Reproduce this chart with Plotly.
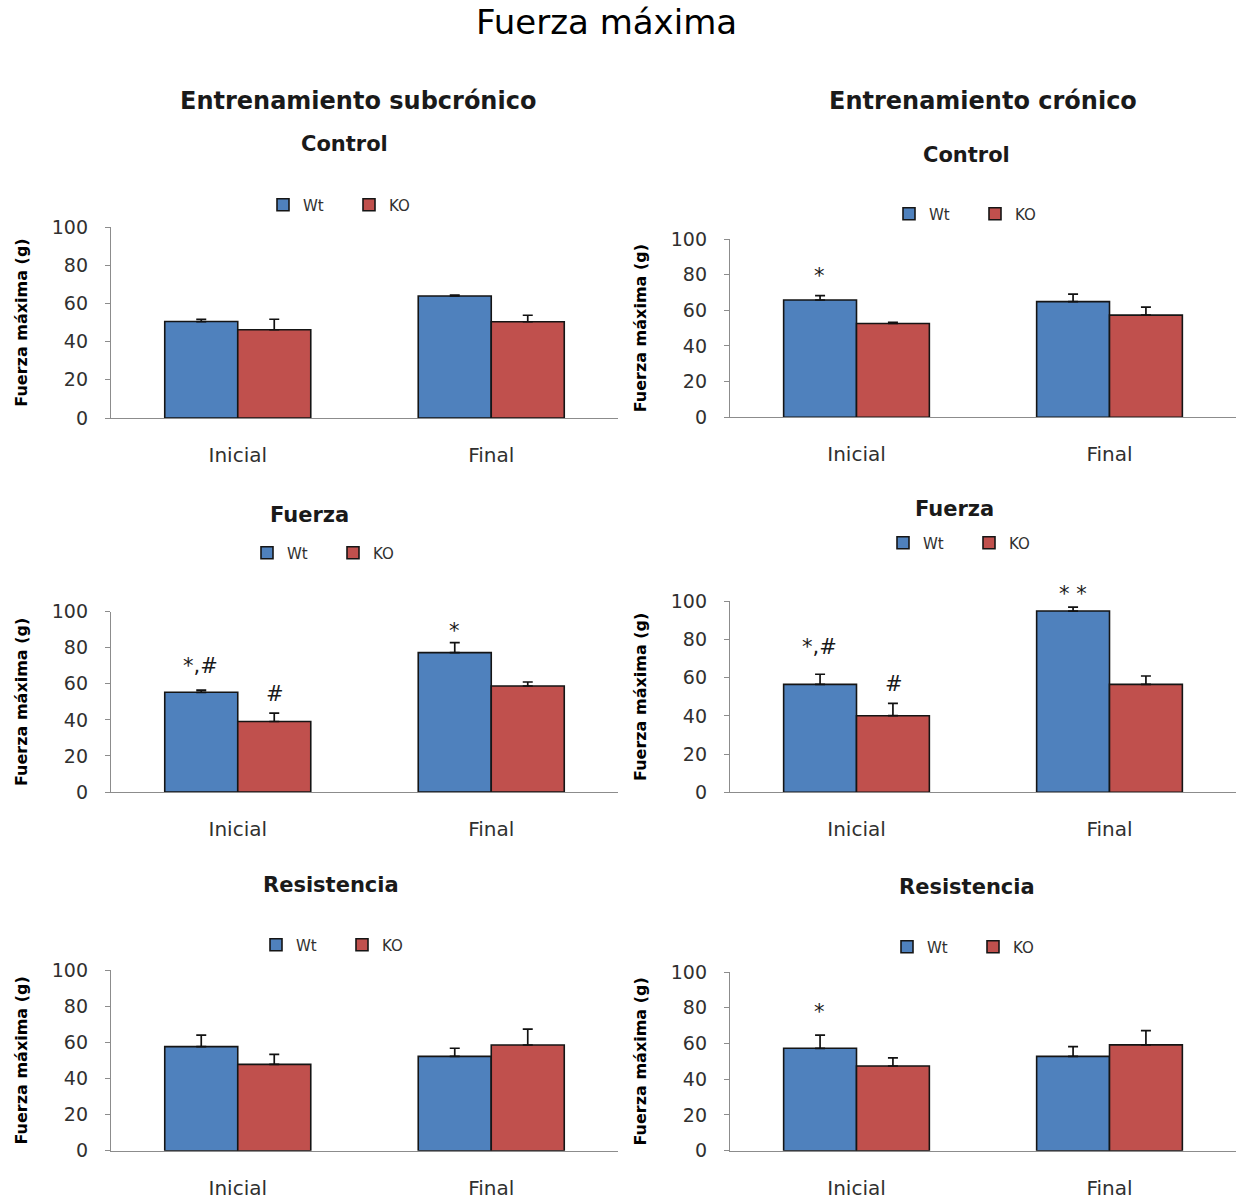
import plotly.graph_objects as go

# ---------------- data ----------------
categories = ["Inicial", "Final"]
series_names = ["Wt", "KO"]
column_titles = ["Entrenamiento subcrónico", "Entrenamiento crónico"]
panel_titles = ["Control", "Control", "Fuerza", "Fuerza", "Resistencia", "Resistencia"]

wt_values = [[50.5, 63.9], [65.8, 64.9], [55.3, 77.3], [56.5, 94.9], [57.6, 52.2], [57.3, 52.8]]
wt_errors = [[1.2, 0.5], [2.4, 4.2], [1.2, 5.5], [5.3, 2.0], [6.4, 4.5], [7.4, 5.4]]
ko_values = [[46.2, 50.4], [52.6, 57.3], [39.1, 58.8], [40.1, 56.5], [47.8, 58.5], [47.4, 59.2]]
ko_errors = [[5.5, 3.4], [0.6, 4.5], [4.6, 2.2], [6.5, 4.4], [5.5, 8.8], [4.5, 8.0]]

# significance marks: (panel index, category, series, text, y value of the mark centre)
marks = [
    (1, "Inicial", "Wt", "*", 81.6),
    (2, "Inicial", "Wt", "*,#", 72.3),
    (2, "Inicial", "KO", "#", 56.6),
    (2, "Final", "Wt", "*", 91.6),
    (3, "Inicial", "Wt", "*,#", 78.0),
    (3, "Inicial", "KO", "#", 58.8),
    (3, "Final", "Wt", "* *", 106.0),
    (5, "Inicial", "Wt", "*", 79.7),
]

y_ticks = [0, 20, 40, 60, 80, 100]
y_title = "Fuerza máxima (g)"
main_title = "Fuerza máxima"

# ---------------- layout geometry (pixels) ----------------
W, H = 1236, 1201
col_x = [(111, 618), (730, 1236)]
# (pixel of y=0, pixel of y=100)
row_y = [(418, 227), (417.3, 239), (792, 611.7), (792.3, 601.3), (1150.7, 970), (1150.7, 972)]
legend_pos = [(349, 205), (975, 214), (333, 553), (969, 543), (342, 945), (973, 947)]
title_pos = [(344, 144), (966, 155), (309, 515), (954, 509), (331, 885), (967, 887)]
col_title_pos = [(358, 101), (983, 101)]

BLUE = "#4F81BD"
RED = "#C0504D"
FONT = "DejaVu Sans"

fig = go.Figure()
layout = {}
annotations = []

for p in range(6):
    col = p % 2
    ax = "" if p == 0 else str(p + 1)
    xref, yref = "x" + ax, "y" + ax
    leg = "legend" if p == 0 else "legend" + str(p + 1)
    for name, vals, errs, color in [("Wt", wt_values[p], wt_errors[p], BLUE),
                                    ("KO", ko_values[p], ko_errors[p], RED)]:
        fig.add_trace(go.Bar(
            x=categories, y=vals, name=name, xaxis=xref, yaxis=yref, legend=leg,
            marker=dict(color=color, line=dict(color="#151515", width=1.6)),
            error_y=dict(type="data", array=errs, arrayminus=[0] * len(errs), symmetric=False,
                         color="#111111", thickness=1.7, width=5),
        ))
    x0, x1 = col_x[col]
    yb, yt = row_y[p]
    layout["xaxis" + ax] = dict(
        domain=[x0 / W, min(x1 / W, 1.0)], anchor=yref, range=[-0.5, 1.5],
        showline=True, linecolor="#8c8c8c", linewidth=1.3, ticks="",
        tickfont=dict(family=FONT, size=20, color="#303030"), ticklabelstandoff=19,
        showgrid=False, zeroline=False, fixedrange=True, automargin=False,
    )
    layout["yaxis" + ax] = dict(
        domain=[1 - yb / H, 1 - yt / H], anchor=xref, range=[0, 100],
        tickvals=y_ticks, showline=True, linecolor="#8c8c8c", linewidth=1.3,
        ticks="outside", ticklen=5, tickcolor="#8c8c8c",
        tickfont=dict(family=FONT, size=19, color="#303030"), ticklabelstandoff=13,
        showgrid=False, zeroline=False, automargin=False,
        title=dict(text="<b>" + y_title + "</b>", font=dict(family=FONT, size=16, color="#000000"),
                   standoff=20),
    )
    lx, ly = legend_pos[p]
    layout[leg] = dict(
        orientation="h", x=lx / W, y=1 - ly / H, xanchor="center", yanchor="middle",
        font=dict(family=FONT, size=15, color="#303030"), itemwidth=30,
        entrywidth=41, bgcolor="rgba(0,0,0,0)", traceorder="normal",
    )
    tx, ty = title_pos[p]
    annotations.append(dict(text="<b>" + panel_titles[p] + "</b>", x=tx / W, y=1 - ty / H,
                            xref="paper", yref="paper", showarrow=False,
                            xanchor="center", yanchor="middle",
                            font=dict(family=FONT, size=21, color="#1a1a1a")))

for p, cat, ser, txt, yv in marks:
    ax = "" if p == 0 else str(p + 1)
    ci = categories.index(cat)
    vals = wt_values[p] if ser == "Wt" else ko_values[p]
    errs = wt_errors[p] if ser == "Wt" else ko_errors[p]
    top = vals[ci] + errs[ci]
    yb, yt = row_y[p]
    ppu = (yb - yt) / 100.0
    annotations.append(dict(text=txt, x=cat, y=top, xref="x" + ax, yref="y" + ax,
                            showarrow=False, xanchor="center", yanchor="middle",
                            xshift=-37 if ser == "Wt" else 37,
                            yshift=(yv - top) * ppu - 4,
                            font=dict(family=FONT, size=21, color="#1a1a1a")))

for i, t in enumerate(column_titles):
    cx, cy = col_title_pos[i]
    annotations.append(dict(text="<b>" + t + "</b>", x=cx / W, y=1 - cy / H,
                            xref="paper", yref="paper", showarrow=False,
                            xanchor="center", yanchor="middle",
                            font=dict(family=FONT, size=24, color="#1a1a1a")))

annotations.append(dict(text=main_title, x=606 / W, y=1 - 22 / H, xref="paper", yref="paper",
                        showarrow=False, xanchor="center", yanchor="middle",
                        font=dict(family=FONT, size=34, color="#000000")))

fig.update_layout(
    width=W, height=H, margin=dict(l=0, r=0, t=0, b=0, autoexpand=False),
    paper_bgcolor="white", plot_bgcolor="white",
    barmode="group", bargap=0.424, bargroupgap=0,
    annotations=annotations, showlegend=True,
    **layout,
)

fig.write_html("out.html", config={"displayModeBar": False},
               post_script="document.body.style.margin='0';document.body.style.overflow='hidden';")
